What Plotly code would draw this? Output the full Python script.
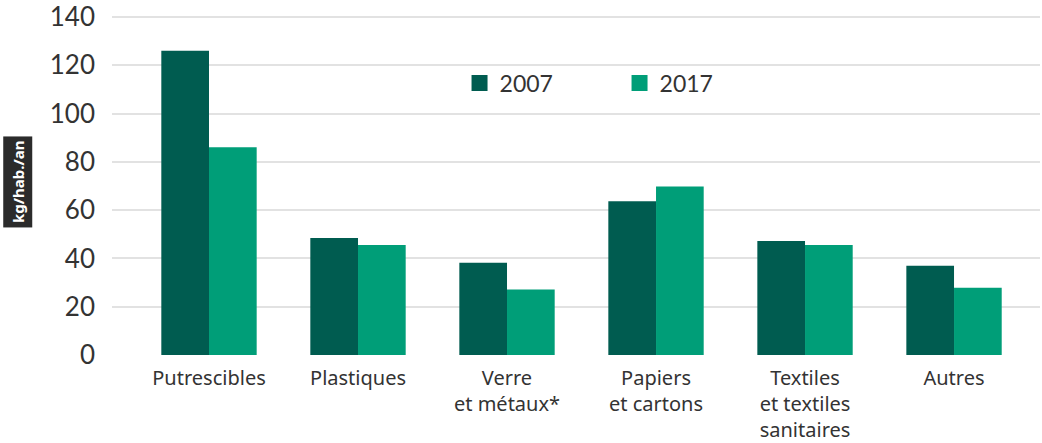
import plotly.graph_objects as go

categories = ["Putrescibles", "Plastiques", "Verre<br>et métaux*", "Papiers<br>et cartons",
              "Textiles<br>et textiles<br>sanitaires", "Autres"]
values_2007 = [126, 48.5, 38.2, 63.7, 47.2, 37]
values_2017 = [86, 45.6, 27.1, 69.8, 45.6, 27.9]
y_ticks = [0, 20, 40, 60, 80, 100, 120, 140]

dark = "#005c50"
light = "#009e78"

fig = go.Figure()
fig.add_trace(go.Bar(x=categories, y=values_2007, name="2007", marker_color=dark,
                     marker_line_width=0, showlegend=False))
fig.add_trace(go.Bar(x=categories, y=values_2017, name="2017", marker_color=light,
                     marker_line_width=0, showlegend=False))
# legend entries with larger square symbols
for name, col in [("2007", dark), ("2017", light)]:
    fig.add_trace(go.Scatter(x=[None], y=[None], mode="markers", name=name,
                             marker=dict(symbol="square", size=22, color=col)))

fig.update_layout(
    width=1042, height=443,
    margin=dict(l=112, r=2, t=15, b=88, autoexpand=False),
    paper_bgcolor="white", plot_bgcolor="white",
    font=dict(family="Lato", color="#333333"),
    barmode="group", bargap=0.36, bargroupgap=0,
    showlegend=True,
    legend=dict(orientation="h", x=0.3745, y=0.80, xanchor="left", yanchor="middle",
                font=dict(size=23, color="#333333"), entrywidth=115, entrywidthmode="pixels",
                bgcolor="rgba(0,0,0,0)", itemsizing="trace"),
    xaxis=dict(range=[-0.651, 5.577], showgrid=False, zeroline=False, showline=False,
               ticks="", tickfont=dict(family="Noto Sans", size=20, color="#333333"),
               ticklabelstandoff=9, ticklabeloverflow="allow", automargin=False,
               fixedrange=True),
    yaxis=dict(range=[0, 140.8], tickvals=y_ticks, showgrid=True, gridcolor="#e2e2e2",
               gridwidth=2, zeroline=False, showline=False, ticks="",
               tickfont=dict(size=26, color="#333333"), ticklabelstandoff=16,
               ticklabeloverflow="allow", automargin=False),
    annotations=[dict(text="<b>kg/hab./an</b>", xref="paper", yref="paper",
                      x=-0.102, y=0.51, xanchor="center", yanchor="middle",
                      textangle=-90, showarrow=False, bgcolor="#2b2b2b",
                      font=dict(family="Noto Sans", size=15, color="white"), borderpad=4)],
)

fig.write_html("out.html", config={"displayModeBar": False},
               post_script="document.body.style.margin='0px';")
